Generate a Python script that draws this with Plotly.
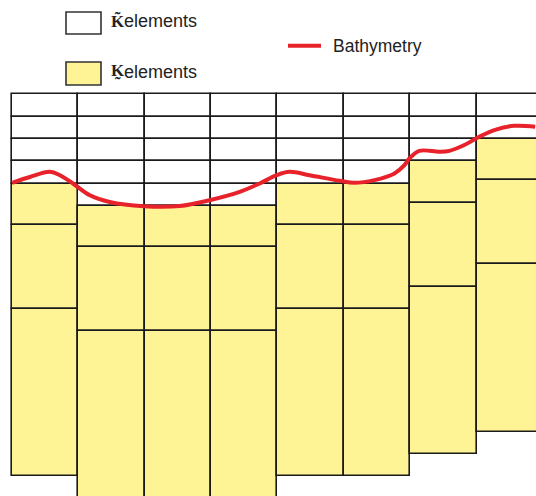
import plotly.graph_objects as go

# ---- data ----
columns = [0, 1, 2, 3, 4, 5, 6, 7]            # column index
k_tilde_rows = [4, 5, 5, 5, 4, 4, 3, 2]        # number of K~ (white) cells above the K cells
k_layers = [1.85, 3.75, 7.5]                   # thickness of the K (yellow) layers, in row units

bathy_x = [0.005, 0.275, 0.576, 0.726, 0.922, 1.177, 1.477, 1.989, 2.531, 2.982,
           3.433, 3.734, 3.989, 4.185, 4.486, 4.937, 5.162, 5.463, 5.764, 5.914,
           5.989, 6.140, 6.441, 6.591, 6.817, 7.042, 7.268, 7.568, 7.884]
bathy_depth = [3.96, 3.70, 3.47, 3.62, 3.99, 4.52, 4.82, 5.01, 5.00, 4.74,
               4.37, 3.99, 3.62, 3.47, 3.62, 3.87, 3.96, 3.84, 3.54, 3.17,
               2.87, 2.53, 2.57, 2.53, 2.27, 1.90, 1.60, 1.41, 1.45]

legend_labels = ["K\u0303", "K\u0330", "elements", "Bathymetry"]

# ---- styles ----
W, H = 536, 496
COLW, ROWH = 66.4, 22.35
X0PX, Y0PX = 11.7, 94.3
YELLOW = "#FEF496"
EDGE = "#1a1a1a"
RED = "#E8222A"

# white cells
wx, wbase, wh = [], [], []
for c, n in zip(columns, k_tilde_rows):
    for j in range(n):
        wx.append(c + 0.5)
        wbase.append(j)
        wh.append(1)

# yellow cells
yx, ybase, yh = [], [], []
for c, n in zip(columns, k_tilde_rows):
    b = n
    for t in k_layers:
        yx.append(c + 0.5)
        ybase.append(b)
        yh.append(t)
        b += t

fig = go.Figure()
fig.add_trace(go.Bar(x=wx, y=wh, base=wbase, width=1,
                     marker=dict(color="white", line=dict(color=EDGE, width=1.6)),
                     hoverinfo="skip", showlegend=False))
fig.add_trace(go.Bar(x=yx, y=yh, base=ybase, width=1,
                     marker=dict(color=YELLOW, line=dict(color=EDGE, width=1.6)),
                     hoverinfo="skip", showlegend=False))
fig.add_trace(go.Scatter(x=bathy_x, y=bathy_depth, mode="lines",
                         line=dict(color=RED, width=4, shape="spline", smoothing=1.0),
                         hoverinfo="skip", showlegend=False))

def px(v):
    return v / W

def py(v):
    return 1 - v / H

shapes = [
    dict(type="rect", xref="paper", yref="paper", x0=px(66), x1=px(101), y0=py(34), y1=py(12),
         fillcolor="white", line=dict(color="#333333", width=1.6)),
    dict(type="rect", xref="paper", yref="paper", x0=px(66), x1=px(101), y0=py(85), y1=py(62),
         fillcolor=YELLOW, line=dict(color="#333333", width=1.6)),
    dict(type="line", xref="paper", yref="paper", x0=px(288), x1=px(321), y0=py(45.7), y1=py(45.7),
         line=dict(color=RED, width=4)),
]

sans = "Liberation Sans, Arial, sans-serif"
serif = "Liberation Serif, DejaVu Serif, serif"
annotations = [
    dict(xref="paper", yref="paper", x=px(108.5), y=py(20.5), xanchor="left", yanchor="middle",
         text="<b>" + legend_labels[0] + "</b>", showarrow=False,
         font=dict(family=serif, size=17, color="#222222")),
    dict(xref="paper", yref="paper", x=px(121.5), y=py(21.5), xanchor="left", yanchor="middle",
         text=legend_labels[2], showarrow=False, font=dict(family=sans, size=18, color="#222222")),
    dict(xref="paper", yref="paper", x=px(108.5), y=py(70.5), xanchor="left", yanchor="middle",
         text="<b>" + legend_labels[1] + "</b>", showarrow=False,
         font=dict(family=serif, size=17, color="#222222")),
    dict(xref="paper", yref="paper", x=px(121.5), y=py(71.5), xanchor="left", yanchor="middle",
         text=legend_labels[2], showarrow=False, font=dict(family=sans, size=18, color="#222222")),
    dict(xref="paper", yref="paper", x=px(331), y=py(45.5), xanchor="left", yanchor="middle",
         text=legend_labels[3], showarrow=False, font=dict(family=sans, size=17.5, color="#222222")),
]

fig.update_layout(
    width=W, height=H,
    margin=dict(l=0, r=0, t=0, b=0),
    paper_bgcolor="white", plot_bgcolor="white",
    barmode="overlay", bargap=0,
    shapes=shapes, annotations=annotations,
    xaxis=dict(range=[-X0PX / COLW, (W - X0PX) / COLW], visible=False, fixedrange=True),
    yaxis=dict(range=[(H - Y0PX) / ROWH, -Y0PX / ROWH], visible=False, fixedrange=True),
)

fig.write_html("out.html", config={"displayModeBar": False},
               post_script="document.body.style.margin='0';document.body.style.overflow='hidden';")
